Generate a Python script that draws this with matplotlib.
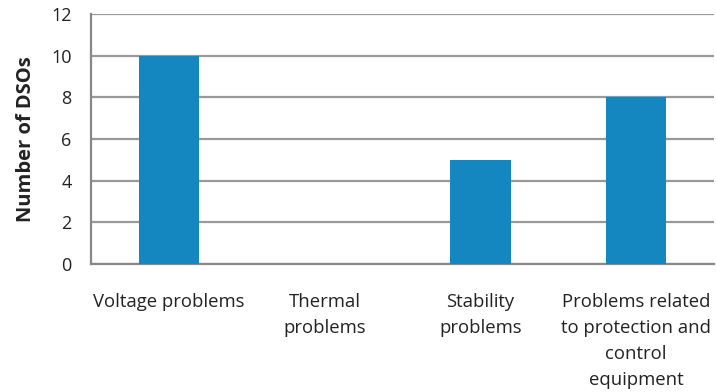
import matplotlib
matplotlib.use("Agg")
import matplotlib.pyplot as plt

categories = ["Voltage problems", "Thermal\nproblems", "Stability\nproblems",
              "Problems related\nto protection and\ncontrol\nequipment"]
values = [10, 0, 5, 8]
yticks = [0, 2, 4, 6, 8, 10, 12]

plt.rcParams['font.family'] = ['Open Sans', 'DejaVu Sans']

fig = plt.figure(figsize=(7.16, 3.92), dpi=100)
ax = fig.add_axes([91 / 716, 1 - 264 / 392, (714 - 91) / 716, (264 - 14) / 392])

x = list(range(len(categories)))
ax.bar(x, values, width=0.39, color="#1487C0", zorder=3)

ax.set_xlim(-0.5, len(categories) - 0.5)
ax.set_ylim(0, 12)
ax.set_yticks(yticks)
ax.set_yticklabels([str(t) for t in yticks], fontsize=13, color="#222222")
ax.set_xticks(x)
ax.set_xticklabels(categories, fontsize=13.3, color="#222222", linespacing=1.56,
                   va="top")
ax.tick_params(axis="both", length=0)
ax.tick_params(axis="x", pad=21)
ax.tick_params(axis="y", pad=14)

ax.yaxis.grid(True, color="#999999", linewidth=1.6, zorder=0)
ax.set_axisbelow(True)
for side in ("top", "right"):
    ax.spines[side].set_visible(False)
for side in ("left", "bottom"):
    ax.spines[side].set_color("#888888")
    ax.spines[side].set_linewidth(1.6)

ax.set_ylabel("Number of DSOs", fontsize=14.5, fontweight="bold", color="#222222",
              labelpad=11)

fig.savefig("out.png", dpi=100)
